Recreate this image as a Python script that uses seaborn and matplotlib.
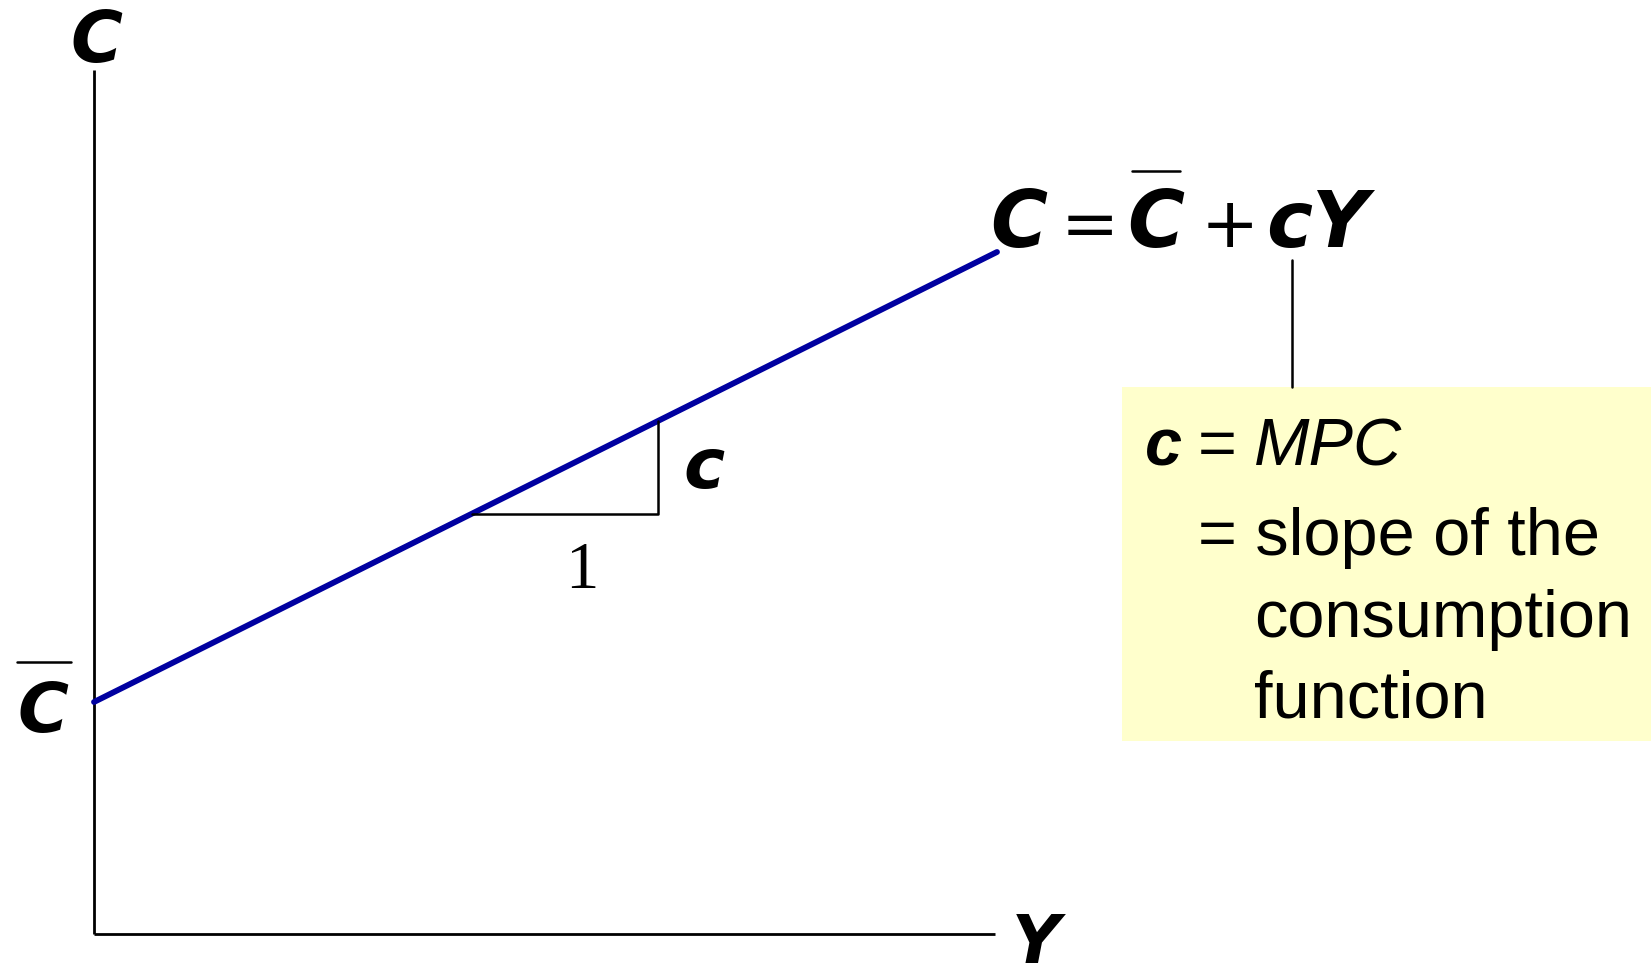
import matplotlib
matplotlib.use("Agg")
import matplotlib.pyplot as plt
import seaborn as sns
import pandas as pd
from matplotlib.patches import Rectangle

# consumption function C = Cbar + cY (units: 1 = 100 px in the picture)
income = [0.0, 9.03]
consumption = [2.32, 6.82]
c_bar = 2.32
mpc = 0.498

# slope triangle
tri_income = [3.78, 5.64, 5.64]
tri_consumption = [4.20, 4.20, 5.13]

# axes extent
y_axis_top = 8.64
x_axis_right = 9.01

formula_parts = ["C", "=", "C", "+", "cY"]
box_lines = ["= slope of the", "consumption", "function"]

BLUE = "#0000A0"
BOX = "#FFFFCC"

sns.set_theme(style="white")
plt.rcParams["font.family"] = ["DejaVu Sans"]

fig = plt.figure(figsize=(16.51, 9.78), dpi=100)
ax = fig.add_axes([0, 0, 1, 1])
ax.set_xlim(-0.94, 15.57)
ax.set_ylim(-0.43, 9.35)
ax.axis("off")

# axes lines
ax.plot([0, 0], [0, y_axis_top], color="black", lw=2.0, solid_capstyle="butt")
ax.plot([0, x_axis_right], [0, 0], color="black", lw=2.0, solid_capstyle="butt")

# consumption line
df = pd.DataFrame({"Y": income, "C": consumption})
sns.lineplot(data=df, x="Y", y="C", color=BLUE, lw=4.2, ax=ax)

# slope triangle
tri = pd.DataFrame({"Y": tri_income, "C": tri_consumption})
sns.lineplot(data=tri, x="Y", y="C", sort=False, estimator=None,
             color="black", lw=1.8, ax=ax)

bi = dict(family="DejaVu Sans", fontweight="bold", fontstyle="oblique", color="black")

# axis labels
ax.text(0.02, 8.73, "C", ha="center", va="baseline", fontsize=51, **bi)
ax.text(9.42, -0.42, "Y", ha="center", va="bottom", fontsize=48, **bi)

# Cbar on vertical axis
ax.text(-0.51, 2.03, "C", ha="center", va="baseline", fontsize=50, **bi)
ax.plot([-0.77, -0.23], [2.72, 2.72], color="black", lw=1.8)

# slope labels
ax.text(5.89, 4.47, "c", ha="left", va="baseline", fontsize=50, **bi)
ax.text(4.88, 3.47, "1", ha="center", va="baseline", fontsize=48,
        family="Liberation Serif", color="black")

# formula
ax.text(8.96, 6.88, formula_parts[0], ha="left", va="baseline", fontsize=56, **bi)
ax.text(9.96, 6.88, formula_parts[1], ha="center", va="baseline", fontsize=50,
        family="DejaVu Sans", color="black")
ax.text(10.62, 6.88, formula_parts[2], ha="center", va="baseline", fontsize=56, **bi)
ax.plot([10.38, 10.86], [7.63, 7.63], color="black", lw=1.8)
ax.text(11.36, 6.88, formula_parts[3], ha="center", va="baseline", fontsize=50,
        family="DejaVu Sans", color="black")
ax.text(11.72, 6.88, formula_parts[4], ha="left", va="baseline", fontsize=56, **bi)

# leader line and box
ax.plot([11.98, 11.98], [6.74, 5.47], color="black", lw=1.8)
ax.add_patch(Rectangle((10.28, 1.93), 5.4, 3.54, facecolor=BOX, edgecolor="none"))

sans = dict(family="Liberation Sans", color="black", fontsize=48)
ax.text(10.51, 4.70, "c", ha="left", va="baseline", fontweight="bold",
        fontstyle="italic", **sans)
ax.text(11.04, 4.70, "=", ha="left", va="baseline", **sans)
ax.text(11.60, 4.70, "MPC", ha="left", va="baseline", fontstyle="italic", **sans)
ax.text(11.04, 3.80, box_lines[0], ha="left", va="baseline", **sans)
ax.text(11.60, 2.98, box_lines[1], ha="left", va="baseline", **sans)
ax.text(11.60, 2.18, box_lines[2], ha="left", va="baseline", **sans)

fig.savefig("out.png", dpi=100)
